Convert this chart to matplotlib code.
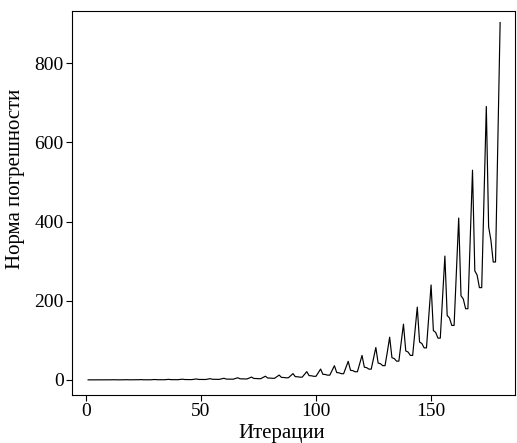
"""Error norm vs iteration line plot."""

import matplotlib
matplotlib.use("Agg")
import matplotlib.pyplot as plt

plt.rcParams["font.family"] = ["Liberation Serif", "DejaVu Serif"]

# error norm per iteration (1..180)
error_norm = [
    0.2, 0.2, 0.19, 0.18, 0.25, 0.38,
    0.2, 0.19, 0.17, 0.17, 0.33, 0.5,
    0.26, 0.25, 0.22, 0.22, 0.44, 0.65,
    0.34, 0.33, 0.29, 0.29, 0.57, 0.85,
    0.44, 0.43, 0.37, 0.37, 0.74, 1.1,
    0.57, 0.55, 0.48, 0.48, 0.96, 1.45,
    0.75, 0.73, 0.64, 0.64, 1.26, 1.9,
    0.99, 0.95, 0.84, 0.84, 1.65, 2.5,
    1.3, 1.25, 1.1, 1.1, 2.18, 3.2,
    1.66, 1.6, 1.41, 1.41, 2.8, 4.2,
    2.18, 2.1, 1.85, 1.85, 3.65, 5.5,
    2.86, 2.75, 2.42, 2.42, 4.8, 7.2,
    3.74, 3.6, 3.17, 3.17, 6.3, 9.4,
    4.89, 4.7, 4.14, 4.14, 8.2, 12.3,
    6.4, 6.15, 5.41, 5.41, 10.7, 16,
    8.3, 8.0, 7.0, 7.0, 13.9, 21,
    10.9, 10.5, 9.2, 9.2, 18.3, 27.5,
    14.3, 13.8, 12.1, 12.1, 23.9, 36,
    18.7, 18, 15.8, 15.8, 31.3, 47,
    24.4, 23.5, 20.7, 20.7, 40.9, 62,
    32.2, 31, 27.3, 27.3, 54, 82,
    42.6, 41, 36.1, 36.1, 71, 108,
    56.2, 54, 47.5, 47.5, 94, 141,
    73.3, 70.5, 62, 62, 123, 184,
    95.7, 92, 81, 81, 160, 240,
    124.8, 120, 105.6, 105.6, 209, 313,
    162.8, 156.5, 137.7, 137.7, 272, 409,
    212.7, 204.5, 180, 180, 356, 530,
    275.6, 265, 233.2, 233.2, 461, 691,
    387, 353, 298, 298, 600, 903,
]
iterations = list(range(1, len(error_norm) + 1))

fig = plt.figure(figsize=(5.17, 4.43), dpi=100)
ax = fig.add_axes([0.1393, 0.1084, 0.857, 0.8657])
ax.plot(iterations, error_norm, color="black", linewidth=0.85)

ax.set_xlim(-6, 186.5)
ax.set_ylim(-38, 931)
ax.set_xticks([0, 50, 100, 150])
ax.set_yticks([0, 200, 400, 600, 800])
ax.tick_params(direction="out", length=4, width=0.8, labelsize=14, pad=2)

ax.set_xlabel("Итерации", fontsize=15, va="baseline")
ax.xaxis.set_label_coords(0.473, -0.112)
ax.set_ylabel("Норма погрешности", fontsize=15)
ax.yaxis.set_label_coords(-0.106, 0.563)
for side in ax.spines.values():
    side.set_linewidth(0.8)

fig.savefig("out.png", dpi=100)
